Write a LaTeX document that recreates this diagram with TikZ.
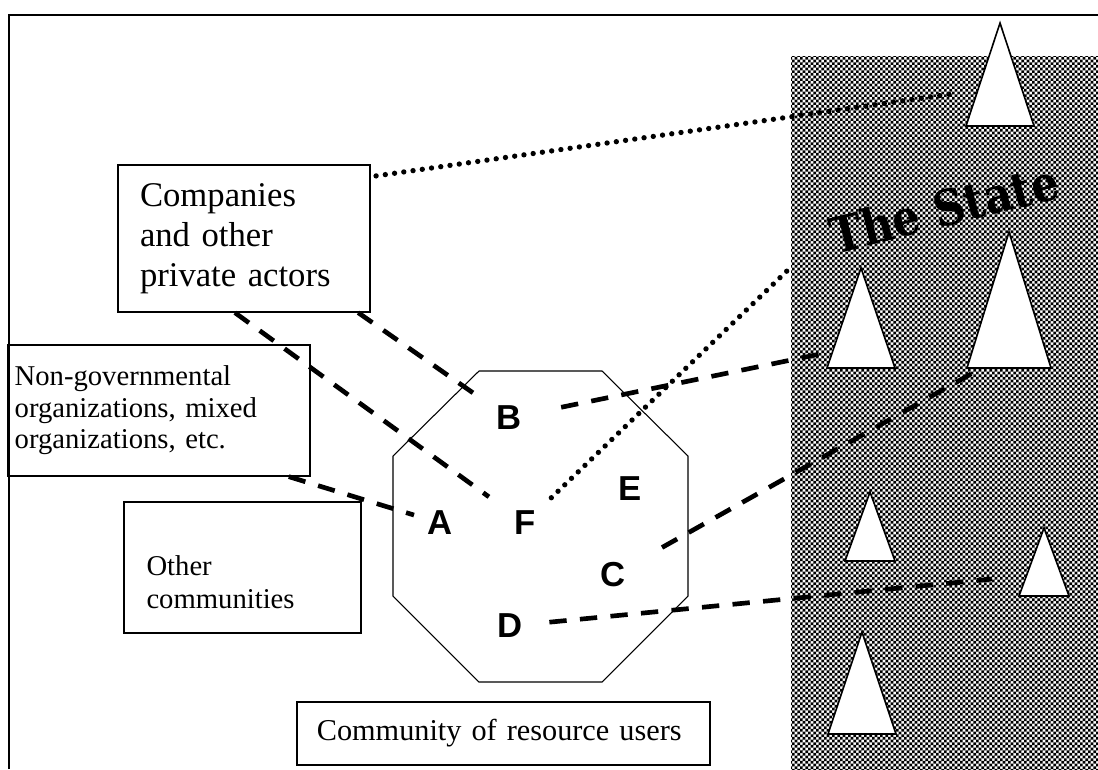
\documentclass[tikz,border=0pt]{standalone}
\usepackage{fontspec}
\setmainfont{Liberation Serif}
\newfontfamily\memberfont{Liberation Sans}
\newfontfamily\statefont{DejaVu Serif}
\usetikzlibrary{patterns, calc}

% small black and white squares for the state
\pgfdeclarepatternformonly{finechecker}{\pgfqpoint{-.1pt}{-.1pt}}{\pgfqpoint{4.1pt}{4.1pt}}{\pgfqpoint{4pt}{4pt}}%
{
  \pgfpathrectangle{\pgfqpoint{0pt}{0pt}}{\pgfqpoint{2.05pt}{2.05pt}}
  \pgfpathrectangle{\pgfqpoint{2pt}{2pt}}{\pgfqpoint{2.05pt}{2.05pt}}
  \pgfusepath{fill}
}

\tikzstyle{actor} = [draw, line width=1.2pt, align=left, inner ysep=0pt]
\tikzstyle{member} = [font=\memberfont\bfseries\fontsize{26}{26}\selectfont, inner sep=8pt]
\tikzstyle{tie} = [line width=3.5pt, dash pattern=on 13pt off 10pt]
\tikzstyle{weaktie} = [line width=4pt, line cap=round, dash pattern=on 0pt off 7pt]
\tikzstyle{peak} = [draw, fill=white, line width=1.2pt]

\begin{document}
\begin{tikzpicture}[x=0.75pt, y=-0.75pt]
\useasboundingbox (0,0) rectangle (1098,769);

% the state: shaded area with its peaks
\fill[pattern=finechecker] (791,56) rectangle (1098,769);
\foreach \cx/\top/\base/\half in {1000/23/126/34, 1009/232/368/42, 861/268/368/34,
    870/492/561/25, 1044/528/596/25, 862/632/734/34}
  \draw[peak] (\cx,\top) -- (\cx+\half,\base) -- (\cx-\half,\base) -- cycle;
\node[font=\statefont\bfseries\fontsize{37}{37}\selectfont, rotate=14, inner sep=0pt] (state)
  at (944,208) {\scalebox{0.88}[1]{The State}};

% outer frame
\draw[line width=2pt] (9,769) -- (9,15) -- (1098,15);

% community of resource users
\draw[line width=0.8pt] (479,371) -- (602,371) -- (688,456) -- (688,596)
  -- (602,682) -- (479,682) -- (393,596) -- (393,456) -- cycle;

\node[actor, text width=156pt, inner xsep=16.5pt, minimum height=110pt,
  font=\fontsize{26}{30}\selectfont] (companies) at (244,238.5)
  {Companies\\and other\\private actors};
\node[actor, text width=216.5pt, inner xsep=5pt, minimum height=98pt,
  font=\fontsize{21.5}{23.6}\selectfont] (ngo) at (159,410.5)
  {Non-governmental\\organizations, mixed\\organizations, etc.};
\node[actor, text width=144pt, inner xsep=17pt, minimum height=98pt,
  font=\fontsize{21.5}{25}\selectfont] (others) at (242.5,567.5)
  {\rule{0pt}{37pt}Other\\communities};
\node[actor, text width=280pt, inner xsep=15pt, minimum height=47pt,
  font=\fontsize{22.7}{26}\selectfont] (users) at (503.5,733.5)
  {Community of resource users};

% members
\node[member] (A) at (440,523) {A};
\node[member] (B) at (509,418) {B};
\node[member] (C) at (613,575) {C};
\node[member] (D) at (510,626) {D};
\node[member] (E) at (630,489) {E};
\node[member] (F) at (525,523) {F};

% where the ties reach the state
\coordinate (peak1) at (958,93);
\coordinate (peak2) at (978,370);
\coordinate (peak3) at (830,352);
\coordinate (peak5) at (992,579);
\coordinate (edge) at (790,268);

% ties
\draw[tie, shorten >=13.5pt] (companies.-97) -- (F);
\draw[tie, shorten >=7.5pt] (companies.-33) -- (B);
\draw[tie, shorten >=2pt] (ngo.-27) -- (A);
\draw[tie, shorten <=22pt] (B) -- (peak3);
\draw[tie, shorten <=22pt] (C) -- (peak2);
\draw[tie, shorten <=12pt] (D) -- (peak5);
\draw[weaktie, shorten <=4pt] (companies.26) -- (peak1);
\draw[weaktie, shorten <=5pt] (F) -- (edge);
\end{tikzpicture}
\end{document}
